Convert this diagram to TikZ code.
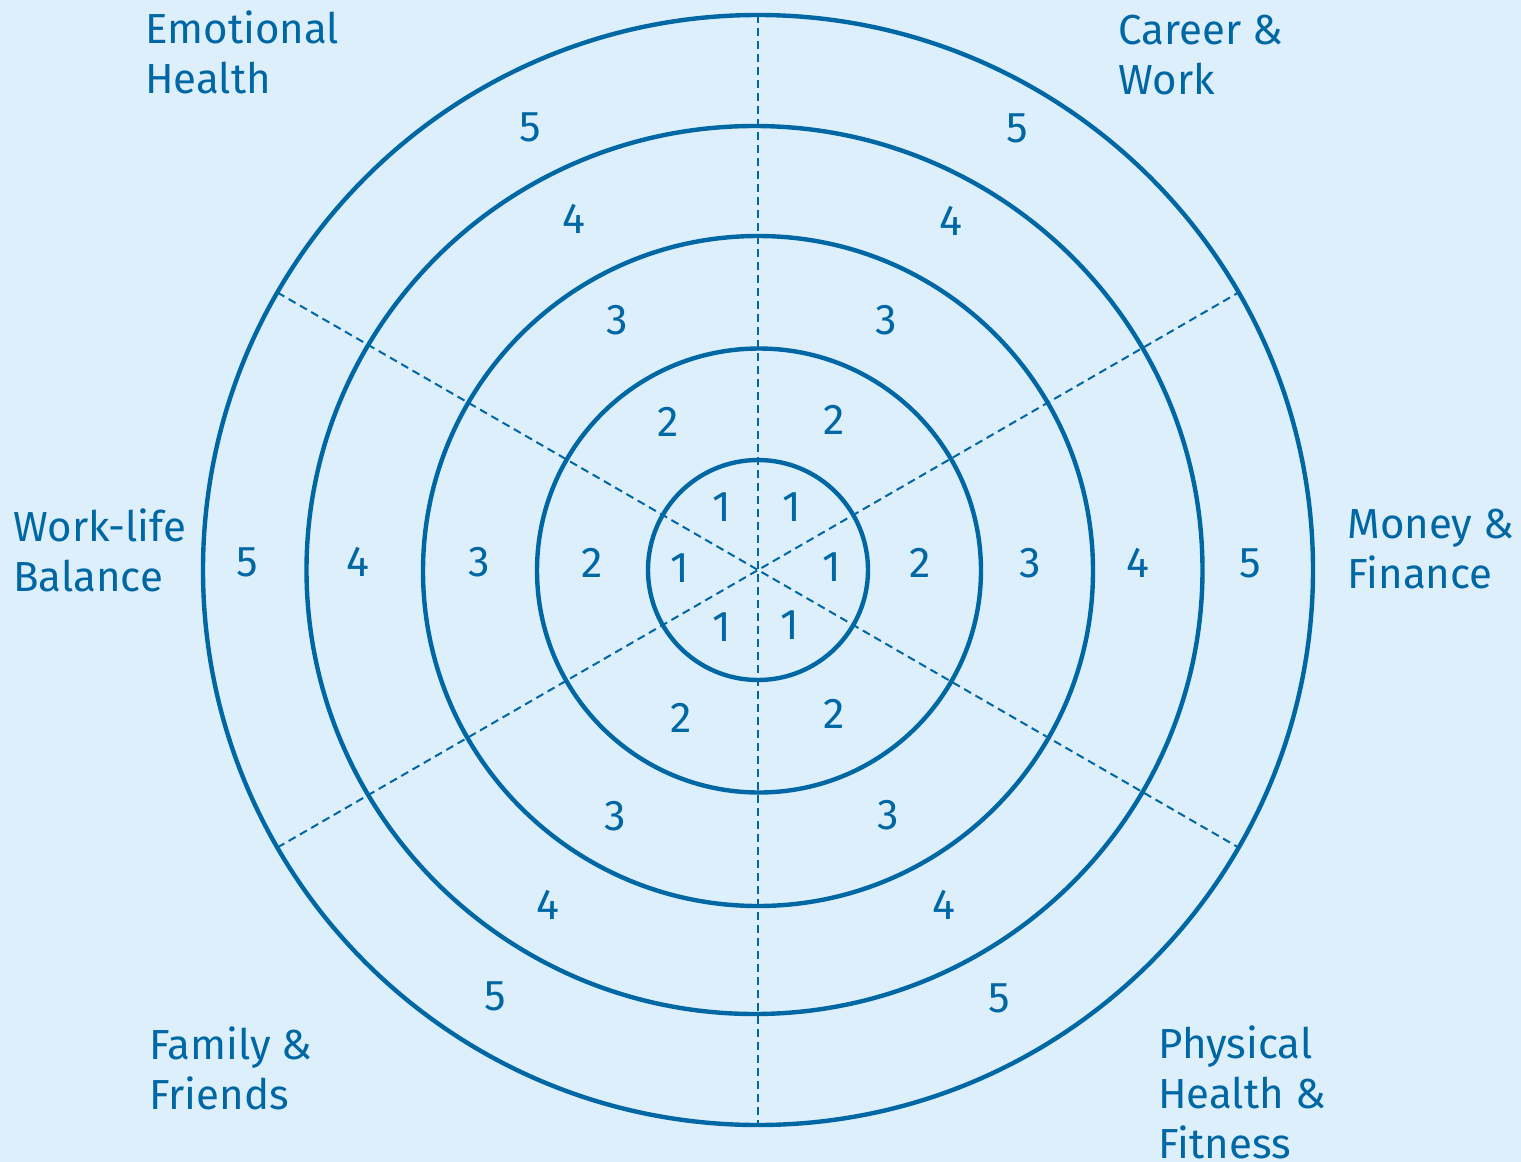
\documentclass[tikz,border=0pt]{standalone}
\usepackage{fontspec}
\setmainfont{Fira Sans}
\definecolor{bg}{HTML}{DDEFFA}
\definecolor{ink}{HTML}{0067A5}
\begin{document}
\begin{tikzpicture}[x=0.5pt,y=-0.5pt,
  ring/.style={draw=ink,line width=2.2pt},
  spoke/.style={draw=ink,line width=1pt,dash pattern=on 4pt off 2.5pt},
  num/.style={text=ink,font=\fontsize{21.5}{25}\selectfont,inner sep=0pt},
  lab/.style={text=ink,font=\fontsize{21}{25}\selectfont,inner sep=0pt,align=left,anchor=base west}]
\fill[bg] (0,0) rectangle (1521,1162);
\useasboundingbox (0,0) rectangle (1521,1162);
\coordinate (c) at (758,570);
% spokes
\coordinate (t) at (758,15);
\coordinate (b) at (758,1125);
\coordinate (ul) at (277.4,292.5);
\coordinate (lr) at (1238.6,847.5);
\coordinate (ll) at (277.4,847.5);
\coordinate (ur) at (1238.6,292.5);
\draw[spoke] (t) -- (b);
\draw[spoke] (ul) -- (lr);
\draw[spoke] (ll) -- (ur);
% rings
\draw[ring] (c) circle[radius=110];
\draw[ring] (759,570.5) circle[radius=222];
\draw[ring] (758,571) circle[radius=335];
\draw[ring] (754.5,570) ellipse[x radius=448,y radius=444];
\draw[ring] (c) circle[radius=555];
% numbers: top right
\node[num] (tr1) at (792,507) {1};
\node[num] (tr2) at (834,420) {2};
\node[num] (tr3) at (886,320) {3};
\node[num] (tr4) at (951,221) {4};
\node[num] (tr5) at (1017,128) {5};
% right
\node[num] (r1) at (832,567) {1};
\node[num] (r2) at (920,563) {2};
\node[num] (r3) at (1030,563) {3};
\node[num] (r4) at (1138,563) {4};
\node[num] (r5) at (1250,563) {5};
% bottom right
\node[num] (br1) at (790,625) {1};
\node[num] (br2) at (834,714) {2};
\node[num] (br3) at (888,815) {3};
\node[num] (br4) at (944,905) {4};
\node[num] (br5) at (999,998) {5};
% bottom left
\node[num] (bl1) at (722,627) {1};
\node[num] (bl2) at (681,718) {2};
\node[num] (bl3) at (615,816) {3};
\node[num] (bl4) at (548,905) {4};
\node[num] (bl5) at (495,996) {5};
% left
\node[num] (l1) at (680,568) {1};
\node[num] (l2) at (592,563) {2};
\node[num] (l3) at (479,562) {3};
\node[num] (l4) at (358,562) {4};
\node[num] (l5) at (247,562) {5};
% top left
\node[num] (tl1) at (722,507) {1};
\node[num] (tl2) at (668,422) {2};
\node[num] (tl3) at (617,320) {3};
\node[num] (tl4) at (574,219) {4};
\node[num] (tl5) at (530,127) {5};
% labels (anchored at the baseline of the last line)
\node[lab] (emo) at (145,93) {Emotional\\Health};
\node[lab] (car) at (1118,94) {Career \&\\Work};
\node[lab] (mon) at (1347,588) {Money \&\\Finance};
\node[lab] (phy) at (1158,1158) {Physical\\Health \&\\Fitness};
\node[lab] (fam) at (149,1109) {Family \&\\Friends};
\node[lab] (wlb) at (13,591) {Work-life\\Balance};
\end{tikzpicture}
\end{document}
